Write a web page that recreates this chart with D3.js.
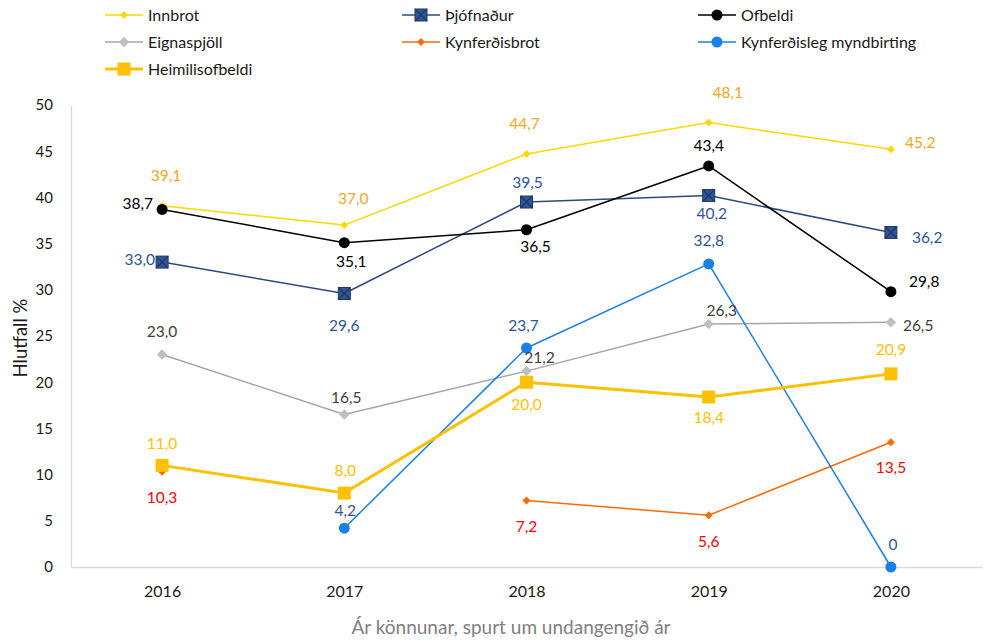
<!DOCTYPE html>
<html>
<head>
<meta charset="utf-8">
<script src="https://cdn.jsdelivr.net/npm/d3@7"></script>
<style>
  body { margin: 0; background: #fff; }
  text { font-family: Lato, "Open Sans", sans-serif; }
  .legendText { font-size: 16px; fill: #1a1a1a; }
  .valueLabel { font-size: 15.5px; }
</style>
</head>
<body>
<div id="chart"></div>
<script>
// Data
var years = ["2016", "2017", "2018", "2019", "2020"];
var yTicks = [0, 5, 10, 15, 20, 25, 30, 35, 40, 45, 50];
var seriesNames = ["Innbrot", "Þjófnaður", "Ofbeldi", "Eignaspjöll", "Kynferðisbrot", "Kynferðisleg myndbirting", "Heimilisofbeldi"];
var innbrot = [39.1, 37.0, 44.7, 48.1, 45.2];
var thjofnadur = [33.0, 29.6, 39.5, 40.2, 36.2];
var ofbeldi = [38.7, 35.1, 36.5, 43.4, 29.8];
var eignaspjoll = [23.0, 16.5, 21.2, 26.3, 26.5];
var kynferdisbrot = [10.3, null, 7.2, 5.6, 13.5];
var myndbirting = [null, 4.2, 23.7, 32.8, 0];
var heimilisofbeldi = [11.0, 8.0, 20.0, 18.4, 20.9];

// Spacing and styling
var margin = {top: 105, right: 7, bottom: 75, left: 71};
var width = 989 - margin.left - margin.right;
var height = 642 - margin.top - margin.bottom;

// style per series: line colour, width, marker, label colour, label offsets [dx, dy, anchor]
var styles = [
  {line: "#FFD800", w: 1.5, marker: "diamond", size: 40, fill: "#FFD800", label: "#F5A623",
   off: [[4,-30,"middle"],[9,-27,"middle"],[-2,-30,"middle"],[19,-30,"middle"],[14,-7,"start"]]},
  {line: "#2E4A7D", w: 1.5, marker: "xsquare", size: 12, fill: "#2F5597", label: "#2F5597",
   off: [[-7,-3,"end"],[0,32,"middle"],[1,-19,"middle"],[3,18,"middle"],[21,5,"start"]]},
  {line: "#000000", w: 1.5, marker: "circle", size: 5.5, fill: "#000000", label: "#000000",
   off: [[-9,-6,"end"],[7,19,"middle"],[9,17,"middle"],[0,-20,"middle"],[18,-10,"start"]]},
  {line: "#A6A6A6", w: 1.5, marker: "diamond", size: 70, fill: "#BFBFBF", label: "#404040",
   off: [[0,-23,"middle"],[2,-17,"middle"],[13,-14,"middle"],[13,-13,"middle"],[12,3,"start"]]},
  {line: "#FF6A00", w: 1.5, marker: "diamond", size: 40, fill: "#FF6A00", label: "#FF0000",
   off: [[0,26,"middle"],[0,0,"middle"],[0,26,"middle"],[0,26,"middle"],[0,25,"middle"]]},
  {line: "#1A7FE6", w: 1.5, marker: "circle", size: 5.5, fill: "#1A7FE6", label: "#2F5597",
   off: [[0,0,"middle"],[1,-18,"middle"],[-3,-22,"middle"],[0,-23,"middle"],[2,-22,"middle"]]},
  {line: "#FFC000", w: 3, marker: "square", size: 13, fill: "#FFC000", label: "#FFC000",
   off: [[0,-22,"middle"],[1,-23,"middle"],[0,22,"middle"],[0,21,"middle"],[0,-24,"middle"]]}
];

var allValues = [innbrot, thjofnadur, ofbeldi, eignaspjoll, kynferdisbrot, myndbirting, heimilisofbeldi];

var svg = d3.select("#chart")
  .append("svg")
  .attr("width", width + margin.left + margin.right)
  .attr("height", height + margin.top + margin.bottom);

var g = svg.append("g")
  .attr("transform", "translate(" + margin.left + "," + margin.top + ")");

var xScale = d3.scalePoint()
  .domain(years)
  .range([0, width])
  .padding(0.5);

var yScale = d3.scaleLinear()
  .domain([0, 50])
  .range([height, 0]);

// Axes
var yAxis = g.append("g")
  .call(d3.axisLeft(yScale).tickValues(yTicks).tickSize(0).tickPadding(18));
yAxis.select(".domain").attr("stroke", "#D9D9D9").attr("stroke-width", 1.3);
yAxis.selectAll(".tick text")
  .style("font-family", "Lato, sans-serif").style("font-size", "15px").style("fill", "#1a1a1a");

var xAxis = g.append("g")
  .attr("transform", "translate(0," + height + ")")
  .call(d3.axisBottom(xScale).tickSize(0).tickPadding(19));
xAxis.select(".domain").attr("stroke", "#D9D9D9").attr("stroke-width", 1.3);
xAxis.selectAll(".tick text")
  .style("font-family", "Lato, sans-serif").style("font-size", "16px").style("fill", "#1a1a1a");

// Axis titles
svg.append("text")
  .attr("transform", "rotate(-90)")
  .attr("x", -338)
  .attr("y", 27)
  .style("text-anchor", "middle")
  .style("font-size", "18.5px")
  .style("fill", "#1a1a1a")
  .text("Hlutfall %");

svg.append("text")
  .attr("x", 511)
  .attr("y", 634)
  .style("text-anchor", "middle")
  .style("font-size", "19px")
  .style("fill", "#808080")
  .text("Ár könnunar, spurt um undangengið ár");

function drawMarker(sel, st) {
  if (st.marker === "circle") {
    sel.append("circle").attr("r", st.size).attr("fill", st.fill);
  } else if (st.marker === "diamond") {
    sel.append("path").attr("d", d3.symbol(d3.symbolDiamond2, st.size)()).attr("fill", st.fill);
  } else {
    var s = st.size;
    sel.append("rect").attr("x", -s/2).attr("y", -s/2).attr("width", s).attr("height", s)
      .attr("fill", st.fill);
    if (st.marker === "xsquare") {
      sel.append("path")
        .attr("d", "M" + (-s/2) + "," + (-s/2) + "L" + (s/2) + "," + (s/2) + "M" + (s/2) + "," + (-s/2) + "L" + (-s/2) + "," + (s/2))
        .attr("stroke", "#1F3864").attr("stroke-width", 1.2);
      sel.select("rect").attr("stroke", "#1F3864").attr("stroke-width", 1);
    }
  }
}

var line = d3.line()
  .defined(function(d) { return d != null; })
  .x(function(d, i) { return xScale(years[i]); })
  .y(function(d) { return yScale(d); });

allValues.forEach(function(values, k) {
  var st = styles[k];
  var sg = g.append("g").attr("class", "series");

  sg.append("path")
    .datum(values)
    .attr("fill", "none")
    .attr("stroke", st.line)
    .attr("stroke-width", st.w)
    .attr("stroke-linejoin", "round")
    .attr("d", line);

  values.forEach(function(v, i) {
    if (v == null) return;
    var m = sg.append("g")
      .attr("transform", "translate(" + xScale(years[i]) + "," + yScale(v) + ")");
    drawMarker(m, st);
  });
});

// Value labels on top
allValues.forEach(function(values, k) {
  var st = styles[k];
  values.forEach(function(v, i) {
    if (v == null) return;
    var o = st.off[i];
    g.append("text")
      .attr("class", "valueLabel")
      .attr("x", xScale(years[i]) + o[0])
      .attr("y", yScale(v) + o[1])
      .attr("dy", "0.35em")
      .style("text-anchor", o[2])
      .style("fill", st.label)
      .text(v === 0 ? "0" : d3.format(".1f")(v).replace(".", ","));
  });
});

// Legend
var legendPos = [[105, 15], [402, 15], [698, 15], [105, 42], [402, 42], [698, 42], [105, 69]];
seriesNames.forEach(function(name, k) {
  var st = styles[k];
  var p = legendPos[k];
  var lg = svg.append("g").attr("transform", "translate(" + p[0] + "," + p[1] + ")");
  lg.append("line")
    .attr("x1", 0).attr("x2", 38)
    .attr("stroke", st.line)
    .attr("stroke-width", st.w);
  var m = lg.append("g").attr("transform", "translate(19,0)");
  drawMarker(m, st);
  lg.append("text")
    .attr("class", "legendText")
    .attr("x", 43)
    .attr("dy", "0.35em")
    .text(name);
});
</script>
</body>
</html>
